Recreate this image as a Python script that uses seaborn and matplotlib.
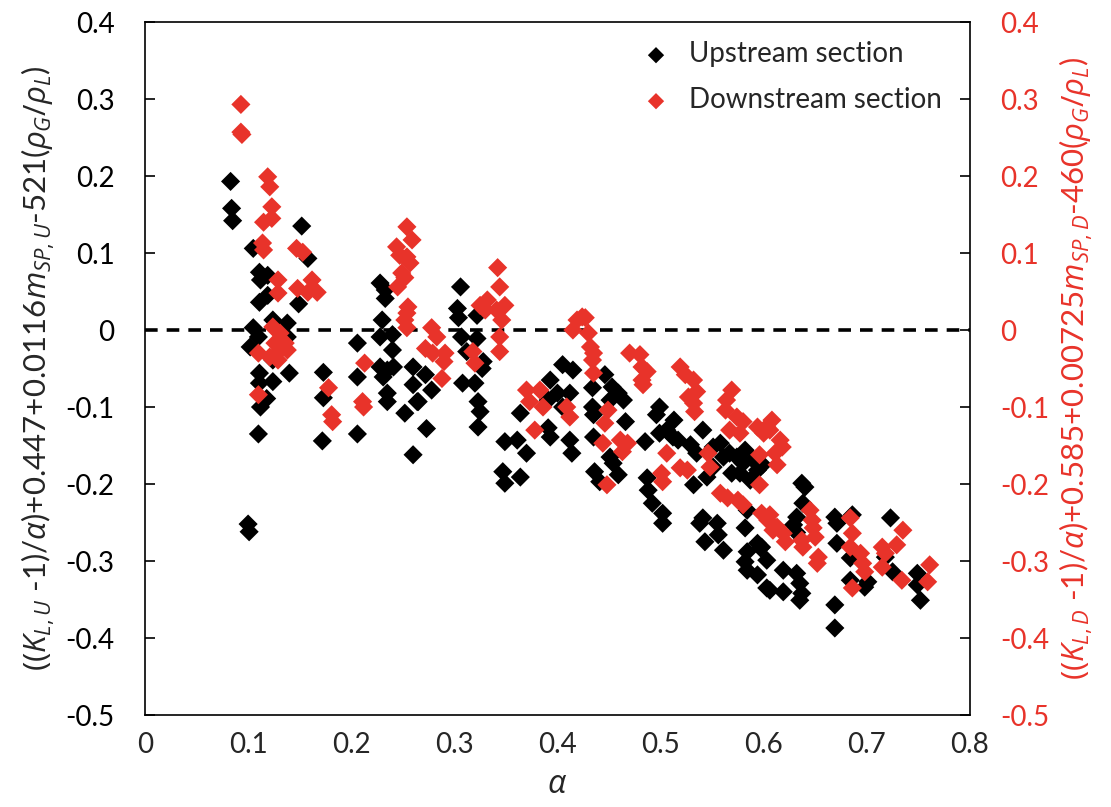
import matplotlib
matplotlib.use("Agg")
import matplotlib.pyplot as plt
import seaborn as sns
import pandas as pd

# ---------------- data ----------------
up_x = [0.083, 0.084, 0.085, 0.100, 0.101,
        0.105, 0.111, 0.112, 0.119, 0.119, 0.111, 0.105, 0.110, 0.102, 0.124, 0.138, 0.138,
        0.124, 0.111, 0.111, 0.124, 0.118, 0.112, 0.110, 0.140,
        0.152, 0.158, 0.149, 0.173, 0.173, 0.172, 0.206, 0.206, 0.206,
        0.228, 0.233, 0.233, 0.230, 0.240, 0.228, 0.240, 0.228, 0.235, 0.241, 0.231, 0.235,
        0.235, 0.252, 0.260, 0.260, 0.264, 0.260,
        0.306, 0.303, 0.304, 0.322, 0.307, 0.322, 0.312, 0.328, 0.327, 0.308, 0.320, 0.323,
        0.325, 0.323, 0.272, 0.278, 0.265, 0.273,
        0.349, 0.347, 0.349, 0.364, 0.361, 0.370, 0.364, 0.393, 0.405, 0.415, 0.400, 0.391,
        0.405, 0.412, 0.391, 0.393, 0.412, 0.414,
        0.446, 0.434, 0.453, 0.459, 0.451, 0.464, 0.434, 0.435, 0.466, 0.435, 0.451, 0.454,
        0.436, 0.459, 0.441, 0.499, 0.496, 0.513, 0.485, 0.499, 0.506, 0.512, 0.517, 0.529,
        0.541, 0.535, 0.487, 0.488, 0.551, 0.558, 0.561, 0.551, 0.567, 0.574, 0.582, 0.580,
        0.590, 0.594, 0.599, 0.569, 0.577, 0.532, 0.545,
        0.492, 0.502, 0.502, 0.541, 0.538, 0.555, 0.556, 0.543, 0.561, 0.584, 0.582, 0.594,
        0.597, 0.584, 0.582, 0.584, 0.594, 0.603, 0.603, 0.587,
        0.640, 0.638, 0.632, 0.629, 0.632, 0.669, 0.671, 0.686, 0.671, 0.684, 0.723, 0.718,
        0.725, 0.749, 0.749, 0.752, 0.684, 0.701, 0.698, 0.669, 0.669, 0.619, 0.619, 0.632,
        0.635, 0.637, 0.635, 0.598, 0.606, 0.637]
up_y = [0.193, 0.158, 0.142, -0.252, -0.262,
        0.106, 0.075, 0.065, 0.071, 0.045, 0.036, 0.003, -0.009, -0.022, 0.013, 0.009, -0.009,
        -0.039, -0.056, -0.069, -0.067, -0.089, -0.100, -0.135, -0.056,
        0.135, 0.093, 0.034, -0.055, -0.088, -0.144, -0.017, -0.061, -0.135,
        0.061, 0.052, 0.041, 0.013, -0.006, -0.009, -0.026, -0.048, -0.052, -0.048, -0.061, -0.082,
        -0.093, -0.108, -0.048, -0.071, -0.093, -0.162,
        0.056, 0.028, 0.016, 0.019, -0.009, -0.011, -0.028, -0.041, -0.050, -0.069, -0.069, -0.093,
        -0.106, -0.126, -0.058, -0.078, -0.093, -0.128,
        -0.145, -0.184, -0.199, -0.191, -0.143, -0.160, -0.108, -0.065, -0.045, -0.052, -0.082, -0.091,
        -0.100, -0.082, -0.127, -0.139, -0.143, -0.160,
        -0.058, -0.075, -0.074, -0.082, -0.091, -0.091, -0.100, -0.110, -0.119, -0.139, -0.165, -0.173,
        -0.184, -0.188, -0.197, -0.100, -0.110, -0.117, -0.145, -0.134, -0.130, -0.139, -0.143, -0.149,
        -0.130, -0.160, -0.192, -0.208, -0.152, -0.147, -0.165, -0.178, -0.160, -0.165, -0.156, -0.173,
        -0.169, -0.182, -0.175, -0.186, -0.186, -0.201, -0.191,
        -0.225, -0.238, -0.251, -0.244, -0.251, -0.251, -0.266, -0.275, -0.286, -0.234, -0.257, -0.277,
        -0.283, -0.288, -0.301, -0.312, -0.318, -0.299, -0.335, -0.195,
        -0.204, -0.225, -0.243, -0.253, -0.263, -0.243, -0.251, -0.240, -0.277, -0.296, -0.244, -0.295,
        -0.314, -0.316, -0.331, -0.351, -0.325, -0.327, -0.334, -0.357, -0.387, -0.312, -0.340, -0.316,
        -0.329, -0.342, -0.351, -0.282, -0.338, -0.199]

down_x = [0.093, 0.093, 0.094,
          0.119, 0.121, 0.123, 0.115, 0.123, 0.114, 0.115, 0.129, 0.129, 0.147, 0.153, 0.148,
          0.162, 0.158, 0.167, 0.124, 0.131, 0.126, 0.136, 0.131, 0.121, 0.129, 0.110, 0.138,
          0.110, 0.178, 0.181, 0.182,
          0.254, 0.259, 0.244, 0.247, 0.254, 0.257, 0.249, 0.252, 0.245, 0.255, 0.254, 0.252, 0.254,
          0.213, 0.211, 0.212,
          0.278, 0.283, 0.272, 0.279, 0.291, 0.290, 0.288,
          0.332, 0.341, 0.342, 0.344, 0.349, 0.346, 0.344, 0.344, 0.318, 0.320, 0.330, 0.325,
          0.370, 0.373, 0.383, 0.386, 0.378, 0.409, 0.412,
          0.419, 0.424, 0.415, 0.430, 0.432, 0.434, 0.435, 0.427, 0.435,
          0.470, 0.480, 0.482, 0.487, 0.482, 0.483, 0.519, 0.524, 0.532, 0.535, 0.527, 0.532,
          0.533, 0.564, 0.569, 0.563, 0.574, 0.580, 0.567, 0.577, 0.594, 0.603, 0.600,
          0.449, 0.446, 0.444, 0.461, 0.468, 0.463, 0.448, 0.506, 0.501, 0.502, 0.519, 0.526,
          0.546, 0.548, 0.596,
          0.558, 0.565, 0.575, 0.580, 0.596, 0.598, 0.604, 0.609,
          0.608, 0.616, 0.618, 0.611, 0.613, 0.606, 0.606, 0.613, 0.619, 0.621, 0.637, 0.638,
          0.645, 0.647, 0.648, 0.650, 0.653, 0.652, 0.684, 0.686, 0.684, 0.694, 0.696, 0.698,
          0.686, 0.715, 0.718, 0.715, 0.729, 0.735, 0.734, 0.761, 0.759]
down_y = [0.293, 0.257, 0.254,
          0.199, 0.186, 0.160, 0.140, 0.145, 0.113, 0.104, 0.065, 0.048, 0.106, 0.101, 0.054,
          0.065, 0.049, 0.049, 0.004, -0.004, -0.017, -0.017, -0.026, -0.035, -0.039, -0.030, -0.026,
          -0.084, -0.075, -0.110, -0.119,
          0.134, 0.117, 0.108, 0.097, 0.095, 0.087, 0.074, 0.068, 0.056, 0.030, 0.022, 0.013, 0.003,
          -0.043, -0.093, -0.100,
          0.003, -0.009, -0.024, -0.030, -0.030, -0.041, -0.063,
          0.039, 0.026, 0.081, 0.056, 0.032, 0.013, -0.009, -0.028, -0.028, -0.043, 0.026, 0.032,
          -0.078, -0.093, -0.078, -0.100, -0.130, -0.100, -0.113,
          0.013, 0.017, 0.000, -0.004, -0.022, -0.039, -0.056, 0.016, -0.030,
          -0.030, -0.032, -0.048, -0.054, -0.065, -0.071, -0.048, -0.058, -0.065, -0.080, -0.087, -0.095,
          -0.106, -0.091, -0.078, -0.104, -0.113, -0.119, -0.130, -0.134, -0.126, -0.126, -0.134,
          -0.104, -0.121, -0.147, -0.143, -0.147, -0.158, -0.201, -0.160, -0.186, -0.197, -0.179, -0.182,
          -0.160, -0.178, -0.162,
          -0.212, -0.218, -0.221, -0.227, -0.201, -0.238, -0.247, -0.260,
          -0.117, -0.143, -0.152, -0.160, -0.175, -0.130, -0.240, -0.256, -0.264, -0.275, -0.273, -0.282,
          -0.234, -0.247, -0.257, -0.269, -0.295, -0.303, -0.244, -0.264, -0.282, -0.290, -0.303, -0.314,
          -0.335, -0.282, -0.290, -0.308, -0.279, -0.260, -0.325, -0.305, -0.327]

y_ticks = [-0.5, -0.4, -0.3, -0.2, -0.1, 0, 0.1, 0.2, 0.3, 0.4]
y_ticklabels = ["-0.5", "-0.4", "-0.3", "-0.2", "-0.1", "0", "0.1", "0.2", "0.3", "0.4"]
x_ticks = [0, 0.1, 0.2, 0.3, 0.4, 0.5, 0.6, 0.7, 0.8]
x_ticklabels = ["0", "0.1", "0.2", "0.3", "0.4", "0.5", "0.6", "0.7", "0.8"]

RED = "#E8332A"

# ---------------- style ----------------
sns.set_style("white")
plt.rcParams["font.family"] = ["Lato", "DejaVu Sans"]
plt.rcParams["mathtext.fontset"] = "custom"
plt.rcParams["mathtext.rm"] = "Open Sans"
plt.rcParams["mathtext.it"] = "Open Sans:italic"
plt.rcParams["mathtext.bf"] = "Open Sans:bold"

fig = plt.figure(figsize=(11.11, 8.07), dpi=100)
ax = fig.add_axes([0.1305, 0.114, 0.7425, 0.8587])

df_up = pd.DataFrame({"x": up_x, "y": up_y})
df_dn = pd.DataFrame({"x": down_x, "y": down_y})

sns.scatterplot(data=df_up, x="x", y="y", marker="D", s=95, color="black",
                edgecolor="none", linewidth=0, ax=ax, label="Upstream section", zorder=3)
sns.scatterplot(data=df_dn, x="x", y="y", marker="D", s=95, color=RED,
                edgecolor="none", linewidth=0, ax=ax, label="Downstream section", zorder=3)

ax.axhline(0, color="black", linestyle=(0, (3.5, 2.5)), linewidth=2.6, zorder=2)

ax.set_xlim(0, 0.8)
ax.set_ylim(-0.5, 0.4)
ax.set_xticks(x_ticks)
ax.set_xticklabels(x_ticklabels)
ax.set_yticks(y_ticks)
ax.set_yticklabels(y_ticklabels)
ax.tick_params(axis="y", direction="in", length=7, width=1.2, labelsize=20, pad=22, colors="black")
ax.tick_params(axis="x", direction="in", length=0, labelsize=20, pad=12)
for sp in ax.spines.values():
    sp.set_color("black")
    sp.set_linewidth(1.2)

ax.set_xlabel(r"$\alpha$", fontsize=23, labelpad=8)
ax.set_ylabel(r"$((K_{L,U}$ -1)/$\alpha$)+0.447+0.0116$m_{SP,U}$-521($\rho_G/\rho_L$)",
              fontsize=22.5, labelpad=6)

ax2 = ax.twinx()
ax2.set_ylim(-0.5, 0.4)
ax2.set_yticks(y_ticks)
ax2.set_yticklabels(y_ticklabels)
ax2.tick_params(axis="y", direction="in", length=7, width=1.2, labelsize=20, pad=22,
                colors="black", labelcolor=RED)
ax2.set_ylabel(r"$((K_{L,D}$ -1)/$\alpha$)+0.585+0.00725$m_{SP,D}$-460($\rho_G/\rho_L$)",
               fontsize=22.5, color=RED, labelpad=6)
for sp in ax2.spines.values():
    sp.set_visible(False)

leg = ax.legend(loc="upper right", bbox_to_anchor=(0.99, 1.0), frameon=False, fontsize=20,
                handletextpad=0.2, labelspacing=0.72, markerscale=0.85, borderaxespad=0.3)

fig.savefig("out.png", dpi=100)
